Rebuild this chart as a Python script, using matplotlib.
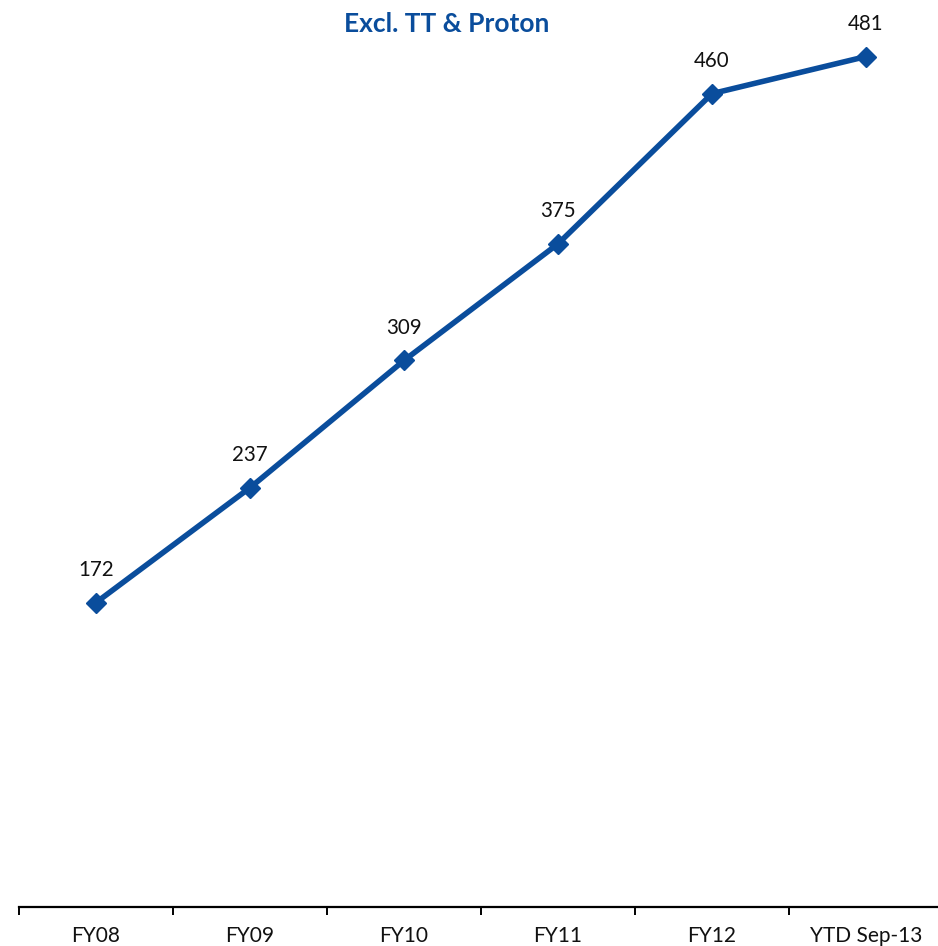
import matplotlib
matplotlib.use("Agg")
import matplotlib.pyplot as plt

plt.rcParams['font.family'] = ['Lato', 'DejaVu Sans']

categories = ["FY08", "FY09", "FY10", "FY11", "FY12", "YTD Sep-13"]
values = [172, 237, 309, 375, 460, 481]
title = "Excl. TT & Proton"

BLUE = "#0A4D9C"

W, H = 938, 946
fig = plt.figure(figsize=(W / 100, H / 100), dpi=100)
ax = fig.add_axes([19 / W, (H - 906.5) / H, 924 / W, 906.5 / H])

x = list(range(len(categories)))
ax.plot(x, values, color=BLUE, lw=4.0, marker="D", markersize=10,
        markerfacecolor=BLUE, markeredgecolor=BLUE, solid_capstyle="round",
        clip_on=False, zorder=3)

for xi, v in zip(x, values):
    ax.annotate(f"{v}", (xi, v), xytext=(0, 23.5), textcoords="offset points",
                ha="center", va="center", fontsize=14.8, color="#111111")

ax.set_xlim(-0.5, len(categories) - 0.5)
ax.set_ylim(0, 513)

for s in ("top", "right", "left"):
    ax.spines[s].set_visible(False)
ax.spines["bottom"].set_linewidth(1.6)
ax.spines["bottom"].set_color("black")
ax.set_yticks([])

# category boundaries carry the ticks, labels sit centred beneath each category
ax.set_xticks([i - 0.5 for i in range(len(categories) + 1)])
ax.set_xticklabels([])
ax.tick_params(axis="x", which="major", length=6, width=1.4, color="black", direction="out")
ax.set_xticks(x, minor=True)
ax.set_xticklabels(categories, minor=True, fontsize=15, color="#111111")
ax.tick_params(axis="x", which="minor", length=0, pad=14)

fig.text(447 / W, 1 - 24 / H, title, ha="center", va="center",
         fontsize=19, fontweight="bold", color=BLUE)

fig.savefig("out.png", dpi=100)
